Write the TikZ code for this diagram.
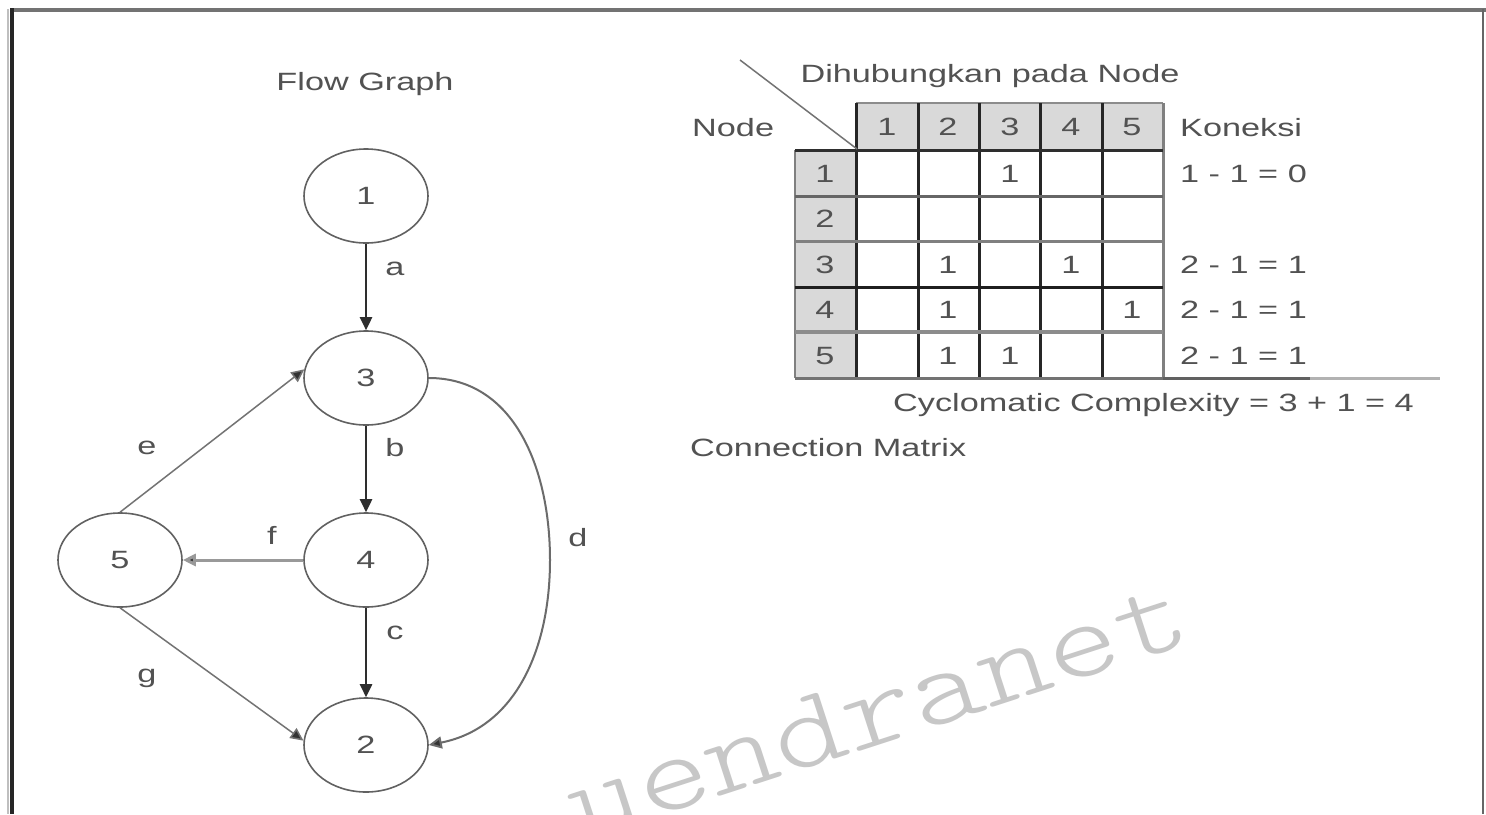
\documentclass[tikz,border=0pt]{standalone}
\usepackage{fontspec}
\setmainfont{Liberation Sans}[FakeStretch=1.37]
\usetikzlibrary{shapes.geometric,arrows.meta}
\begin{document}
\begin{tikzpicture}[x=1pt,y=-1pt,
  txt/.style={font=\fontsize{25}{30}\selectfont, text=black!68, inner sep=0pt},
  vtx/.style={ellipse, draw=black!62, line width=1.6pt, minimum width=124pt, minimum height=94pt, inner sep=0pt, font=\fontsize{25}{30}\selectfont, text=black!68},
  tipped/.style={-{Triangle[length=13pt,width=12pt]}},
  strong/.style={tipped, draw=black!82, line width=2.6pt},
  faint/.style={-{Triangle[length=13pt,width=12pt,fill=black!80]}, draw=black!55, line width=1.5pt},
  grid/.style={line width=3pt},
]
\useasboundingbox (0,0) rectangle (1486,814);
\fill[white] (0,0) rectangle (1486,814);

% watermark
\begin{scope}
\clip (0,0) rectangle (1486,814);
\node[rotate=18, anchor=base west, inner sep=0pt, text=black!22,
      font=\fontseries{l}\ttfamily\fontsize{112}{112}\selectfont] (wm) at (580,842) {\scalebox{1.22}[1]{uendranet}};
\end{scope}

% frame
\draw[black!55, line width=4pt] (10,9.5) -- (1486,9.5);
\draw[black!25, line width=2pt] (8,9) -- (8,814);
\draw[black!85, line width=4pt] (12,8) -- (12,814);
\draw[black!60, line width=2pt] (1483,9) -- (1483,814);

% flow graph
\node[txt, anchor=base] (title) at (365,90) {Flow Graph};
\node[vtx] (n1) at (366,196) {1};
\node[vtx] (n3) at (366,378) {3};
\node[vtx] (n4) at (366,560) {4};
\node[vtx] (n2) at (366,745) {2};
\node[vtx] (n5) at (120,560) {5};

\draw[strong] (n1) -- (n3);
\draw[strong] (n3) -- (n4);
\draw[strong] (n4) -- (n2);
\draw[-{Triangle[length=13pt,width=12pt,fill=black!80]}, draw=black!40, line width=3pt] (n4) -- (n5);
\draw[faint] (n5.north) -- (n3.172);
\draw[faint] (n5.south) -- (n2.176);
\draw[-{Triangle[length=13pt,width=12pt,fill=black!80]}, draw=black!58, line width=2pt] (n3.east) .. controls (515,378) and (550,470) .. (550,560) .. controls (550,650) and (515,728) .. (n2.east);

\node[txt, anchor=base] (la) at (395,275) {a};
\node[txt, anchor=base] (lb) at (395,456) {b};
\node[txt, anchor=base] (lc) at (395,639) {c};
\node[txt, anchor=base] (ld) at (578,546) {d};
\node[txt, anchor=base] (le) at (147,454) {e};
\node[txt, anchor=base] (lf) at (272,544) {f};
\node[txt, anchor=base] (lg) at (147,682) {g};

% connection matrix
\fill[black!15] (856,103) rectangle (1163,150);
\fill[black!15] (795,150) rectangle (856,378);
\draw[black!45, line width=2pt] (856,103) -- (1163,103);
\draw[black!50, line width=2pt] (795,150) -- (795,378);
\foreach \x in {856,918,979,1040,1102} \draw[grid, black!85] (\x,103) -- (\x,378);
\draw[grid, black!50] (1163,103) -- (1163,378);
\draw[grid, black!82] (795,150) -- (1163,150);
\draw[grid, black!60] (795,196) -- (1163,196);
\draw[grid, black!50] (795,241) -- (1163,241);
\draw[grid, black!88] (795,287) -- (1163,287);
\draw[black!45, line width=4pt] (795,332) -- (1163,332);
\draw[grid, black!55] (795,378) -- (1163,378);
\draw[grid, black!62] (1163,378) -- (1310,378);
\draw[grid, black!30] (1310,378) -- (1440,378);

\node[txt, anchor=base] (dh) at (990,82) {Dihubungkan pada Node};
\coordinate (dg) at (740,60);
\coordinate (corner) at (857,149);
\draw[black!55, line width=1.5pt] (dg) -- (corner);
\node[txt, anchor=base west] (nd) at (692,136) {Node};
\node[txt, anchor=base west] (kn) at (1180,136) {Koneksi};

\foreach \j/\cx in {1/887,2/948,3/1010,4/1071,5/1132}
  \node[txt, anchor=base] (h\j) at (\cx,135.5) {\j};
\foreach \i/\cy in {1/182,2/227.5,3/273,4/318.5,5/364}
  \node[txt, anchor=base] (r\i) at (825,\cy) {\i};

\node[txt, anchor=base] (c13) at (1010,182) {1};
\node[txt, anchor=base] (c32) at (948,273) {1};
\node[txt, anchor=base] (c34) at (1071,273) {1};
\node[txt, anchor=base] (c42) at (948,318.5) {1};
\node[txt, anchor=base] (c45) at (1132,318.5) {1};
\node[txt, anchor=base] (c52) at (948,364) {1};
\node[txt, anchor=base] (c53) at (1010,364) {1};

\node[txt, anchor=base west] (k1) at (1180,182) {1 - 1 = 0};
\node[txt, anchor=base west] (k3) at (1180,273) {2 - 1 = 1};
\node[txt, anchor=base west] (k4) at (1180,318.5) {2 - 1 = 1};
\node[txt, anchor=base west] (k5) at (1180,364) {2 - 1 = 1};

\node[txt, anchor=base west] (cc) at (893,411) {Cyclomatic Complexity = 3 + 1 = 4};
\node[txt, anchor=base west] (cm) at (690,456) {Connection Matrix};
\end{tikzpicture}
\end{document}
